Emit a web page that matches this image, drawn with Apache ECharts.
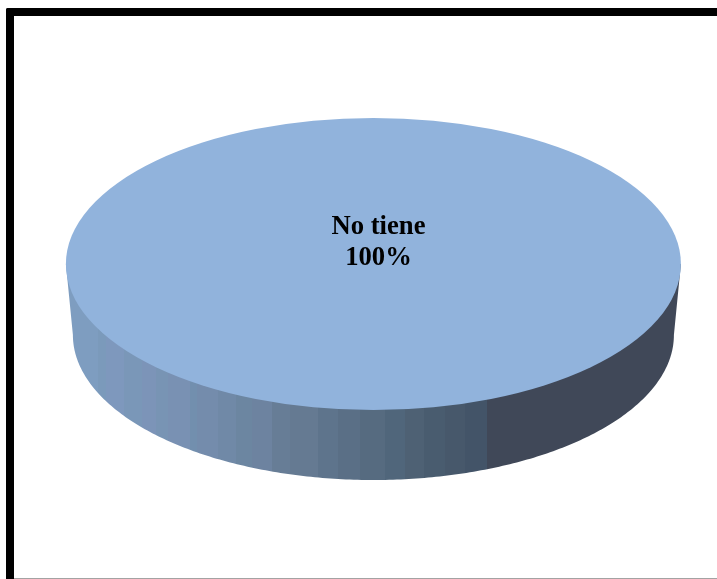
<!DOCTYPE html>
<html>
<head>
<meta charset="utf-8">
<style>html,body{margin:0;padding:0;background:#fff}#c{width:717px;height:579px}</style>
<script src="https://cdn.jsdelivr.net/npm/echarts@6/dist/echarts.min.js"></script>
</head>
<body>
<div id="c"></div>
<script>
const categories = ['No tiene'];
const values = [100];

const total = values.reduce((a, b) => a + b, 0);
const top3d = { cx: 373.4, cy: 264, rx: 307.5, ry: 146 };
const base3d = { cx: 373.4, cy: 335, rx: 300.5, ry: 145 };

const stripeColors = [
  [66,'#7e9dc0'],[98,'#7b9abb'],[106,'#7e98bd'],[124,'#7a97b8'],[142,'#7c94b8'],[156,'#7894b4'],
  [168,'#7991b3'],[190,'#728fae'],[197,'#748cac'],[218,'#7089a7'],[236,'#6c86a1'],[252,'#6d83a0'],
  [272,'#677d96'],[290,'#657a92'],[318,'#5e748c'],[338,'#5a6f86'],[360,'#566b80'],[385,'#50667b'],
  [405,'#4e6174'],[424,'#495c6f'],[445,'#47586b'],[465,'#435468'],[487,'#404858']
];
function sideGradient() {
  const span = top3d.rx * 2, x0 = top3d.cx - top3d.rx, stops = [];
  const clamp = o => Math.min(1, Math.max(0, o));
  stripeColors.forEach(([x, col], i) => {
    const next = i + 1 < stripeColors.length ? stripeColors[i + 1][0] : x0 + span;
    stops.push({ offset: clamp((x - x0) / span), color: col });
    stops.push({ offset: clamp((next - x0) / span), color: col });
  });
  return { type: 'linear', x: x0, y: 0, x2: x0 + span, y2: 0, global: true, colorStops: stops };
}
function sidePoints() {
  const pts = [[top3d.cx - top3d.rx, top3d.cy]];
  for (let i = 0; i <= 240; i++) {
    const t = Math.PI - Math.PI * i / 240;
    pts.push([base3d.cx + base3d.rx * Math.cos(t), base3d.cy + base3d.ry * Math.sin(t)]);
  }
  pts.push([top3d.cx + top3d.rx, top3d.cy]);
  return pts;
}

const chart = echarts.init(document.getElementById('c'), null, { renderer: 'canvas' });
chart.setOption({
  animation: false,
  backgroundColor: '#ffffff',
  tooltip: { show: false },
  graphic: [
    { type: 'rect', shape: { x: 14, y: 578, width: 703, height: 1 }, style: { fill: '#a3a3a3' }, silent: true },
    { type: 'rect', shape: { x: 6, y: 8, width: 800, height: 8, r: [2, 0, 0, 0] }, style: { fill: '#000' }, silent: true },
    { type: 'rect', shape: { x: 6, y: 8, width: 8, height: 600, r: [2, 0, 0, 0] }, style: { fill: '#000' }, silent: true }
  ],
  series: [{
    type: 'custom',
    coordinateSystem: 'none',
    silent: true,
    data: categories.map((name, i) => ({ name, value: values[i] })),
    renderItem(params, api) {
      const v = api.value(0);
      const sweep = v / total * Math.PI * 2;
      return {
        type: 'group',
        children: [
          { type: 'polygon', shape: { points: sidePoints() }, style: { fill: sideGradient() } },
          {
            type: 'group',
            x: top3d.cx, y: top3d.cy, scaleY: top3d.ry / top3d.rx,
            children: [{
              type: 'sector',
              shape: { cx: 0, cy: 0, r0: 0, r: top3d.rx, startAngle: 0, endAngle: sweep, clockwise: true },
              style: { fill: '#91b3dc' }
            }]
          },
          {
            type: 'text',
            x: 378.5, y: 243,
            style: {
              text: categories[params.dataIndex] + '\n' + Math.round(v / total * 100) + '%',
              fill: '#000',
              font: 'bold 26.67px "Liberation Serif", "Times New Roman", serif',
              lineHeight: 31,
              align: 'center',
              verticalAlign: 'middle'
            }
          }
        ]
      };
    }
  }]
});
</script>
</body>
</html>
